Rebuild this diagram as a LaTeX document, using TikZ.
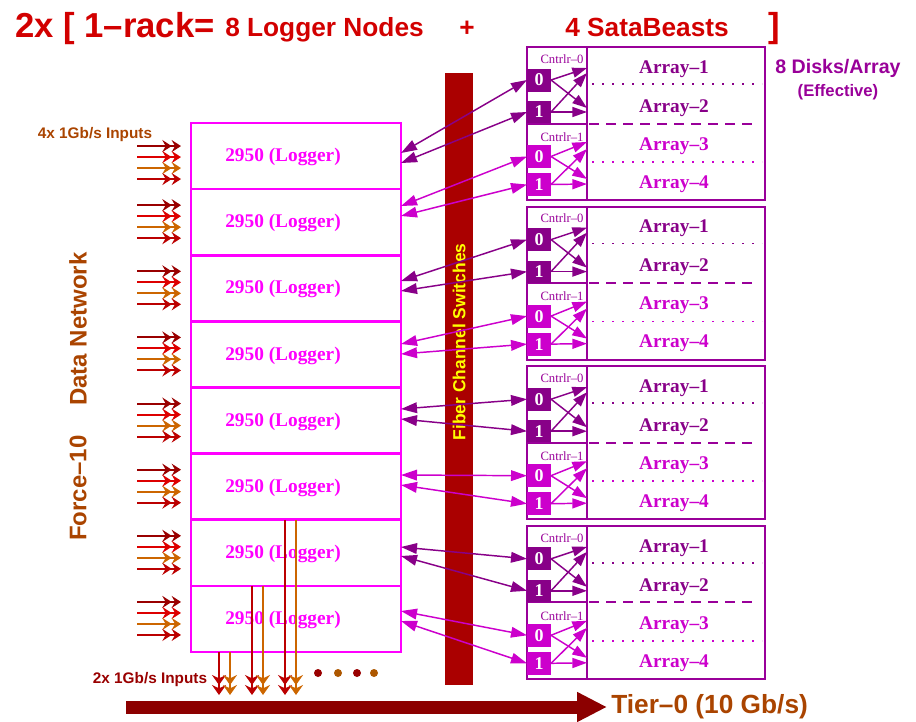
\documentclass[tikz,border=0pt]{standalone}
\usepackage{fontspec}
\setmainfont{Liberation Serif}
\newfontfamily\hsf{Liberation Sans}
\usetikzlibrary{arrows.meta,calc}
\newcommand\setfs[1]{\fontsize{#1}{#1}\selectfont}
\definecolor{titlered}{RGB}{210,0,0}
\definecolor{mag}{RGB}{255,0,255}
\definecolor{pur}{RGB}{153,0,153}
\definecolor{dpur}{RGB}{136,0,136}
\definecolor{lmag}{RGB}{204,0,204}
\definecolor{barred}{RGB}{170,0,0}
\definecolor{ochre}{RGB}{170,68,0}
\definecolor{inA}{RGB}{153,0,0}
\definecolor{inB}{RGB}{221,0,0}
\definecolor{inC}{RGB}{204,102,0}
\definecolor{inD}{RGB}{187,0,0}
\definecolor{tierred}{RGB}{140,0,0}
\definecolor{fcyellow}{RGB}{255,255,0}
\begin{document}
\begin{tikzpicture}[x=0.75pt,y=-0.75pt,
  logger/.style={draw=mag, line width=1.9pt, minimum width=157.5pt, minimum height=49.6pt, inner sep=0pt, outer sep=0pt},
  logtxt/.style={text=mag, font=\bfseries\setfs{14.5}, inner sep=0pt},
  frm/.style={draw=pur, line width=1.5pt, inner sep=0pt, outer sep=0pt},
  cbox/.style={minimum width=18pt, minimum height=17.25pt, inner sep=0pt, outer sep=0pt, text=white, font=\bfseries\setfs{13.5}},
  ctl/.style={text=pur, font=\setfs{9.5}, inner sep=0pt},
  arrtxt/.style={font=\bfseries\setfs{14.5}, inner sep=0pt},
  intarr/.style={line width=1.1pt, -{Triangle[length=11pt,width=7.5pt]}},
  fcarr/.style={line width=1.1pt, {Triangle[length=12pt,width=8pt]}-{Triangle[length=12pt,width=8pt]}},
  inarr/.style={line width=1.5pt, -{Stealth[length=7pt,width=9pt,inset=2.5pt]Stealth[length=7pt,width=9pt,inset=2.5pt]}},
  outarr/.style={line width=1.5pt, -{Stealth[length=7.5pt,width=10.5pt,inset=2.5pt]Stealth[length=7.5pt,width=10.5pt,inset=2.5pt]}},
  dotn/.style={circle, inner sep=0pt, minimum size=6pt},
  sans/.style={font=\hsf\bfseries\setfs{#1}, inner sep=0pt}
]
\useasboundingbox (0,0) rectangle (916,721);

% title
\node[sans=26, text=titlered, anchor=base west] (t1) at (15,37) {2x [ 1\textendash rack=};
\node[sans=19.7, text=titlered, anchor=base west] (t2) at (225,36) {8 Logger Nodes};
\node[sans=19.7, text=titlered, anchor=base] (t3) at (467,36) {+};
\node[sans=19.7, text=titlered, anchor=base west] (t4) at (565,36) {4 SataBeasts};
\node[sans=26, text=titlered, anchor=base west] (t5) at (768,37) {]};

% fiber channel bar
\node[fill=barred, minimum width=21pt, minimum height=459pt, inner sep=0pt] (fcs) at (459,379) {};
\node[sans=13.1, text=fcyellow, rotate=90] (fctext) at (459,342) {Fiber Channel Switches};

% left labels
\node[sans=18, text=ochre, rotate=90] (dn) at (78,329) {Data Network};
\node[sans=18, text=ochre, rotate=90] (f10) at (78,488) {Force\textendash 10};
\node[sans=11.5, text=ochre] (in4) at (95,135) {4x 1Gb/s Inputs};
\node[sans=11.5, text=inA] (in2) at (150,680) {2x 1Gb/s Inputs};

% loggers
\foreach \i in {1,...,8}{
  \pgfmathsetmacro\yc{123+66.125*(\i-1)+33.06}
  \node[logger] (L\i) at (296,\yc) {};
  \node[logtxt] (Lt\i) at (283,\yc+1) {2950 (Logger)};
  \foreach \j/\c in {1/inA,2/inB,3/inC,4/inD}{
    \pgfmathsetmacro\yy{\yc+ifthenelse(\i==1,-21,-28)+11*\j}
    \coordinate (in-\i-\j) at (137,\yy);
    \draw[inarr, \c, shorten >=7.5pt] (in-\i-\j) -- (L\i.west |- in-\i-\j);
  }
}

% satabeasts
\foreach \k in {1,...,4}{
  \pgfmathsetmacro\T{47+159.6*(\k-1)}
  \node[frm, minimum width=133.5pt, minimum height=114.75pt] (A\k) at (676,\T+76.5) {};
  \node[frm, minimum width=45pt, minimum height=57.375pt] (Ka\k) at (557,\T+38.25) {};
  \node[frm, minimum width=45pt, minimum height=57.375pt] (Kb\k) at (557,\T+114.75) {};
  \draw[pur, line width=1.5pt, dash pattern=on 7.5pt off 5.25pt] (589,\T+76.5) -- (758,\T+76.5);
  \draw[dpur, line width=1.3pt, dash pattern=on 1.3pt off 6.2pt] (592,\T+37) -- (762,\T+37);
  \draw[lmag, line width=1.3pt, dash pattern=on 1.3pt off 6.2pt] (592,\T+115) -- (762,\T+115);
  \node[ctl] (cl0-\k) at (562,\T+12) {Cntrlr\textendash 0};
  \node[ctl] (cl1-\k) at (562,\T+90) {Cntrlr\textendash 1};
  \node[cbox, fill=dpur] (ca0-\k) at (539,\T+33) {0};
  \node[cbox, fill=dpur, minimum height=16.5pt] (ca1-\k) at (539,\T+65) {1};
  \node[cbox, fill=lmag] (cb0-\k) at (539,\T+109.5) {0};
  \node[cbox, fill=lmag] (cb1-\k) at (539,\T+137.5) {1};
  \node[arrtxt, text=dpur] (ar1-\k) at (674,\T+22) {Array\textendash 1};
  \node[arrtxt, text=dpur] (ar2-\k) at (674,\T+61) {Array\textendash 2};
  \node[arrtxt, text=lmag] (ar3-\k) at (674,\T+99) {Array\textendash 3};
  \node[arrtxt, text=lmag] (ar4-\k) at (674,\T+137) {Array\textendash 4};
  \coordinate (ea1-\k) at (587,\T+21);
  \coordinate (ea2-\k) at (587,\T+61);
  \coordinate (ea3-\k) at (587,\T+26);
  \coordinate (ea4-\k) at (587,\T+65);
  \coordinate (eb1-\k) at (587,\T+95);
  \coordinate (eb2-\k) at (587,\T+132);
  \coordinate (eb3-\k) at (587,\T+102);
  \coordinate (eb4-\k) at (587,\T+137);
  \draw[intarr, dpur] (ca0-\k.east) -- (ea1-\k);
  \draw[intarr, dpur] (ca0-\k.east) -- (ea2-\k);
  \draw[intarr, dpur] (ca1-\k.east) -- (ea3-\k);
  \draw[intarr, dpur] (ca1-\k.east) -- (ea4-\k);
  \draw[intarr, lmag] (cb0-\k.east) -- (eb1-\k);
  \draw[intarr, lmag] (cb0-\k.east) -- (eb2-\k);
  \draw[intarr, lmag] (cb1-\k.east) -- (eb3-\k);
  \draw[intarr, lmag] (cb1-\k.east) -- (eb4-\k);
}
\node[sans=14.7, text=pur] (dpa) at (838,68) {8 Disks/Array};
\node[sans=12.5, text=pur] (eff) at (838,92) {(Effective)};

% logger <-> controller connectors
\foreach \i/\ya/\yb/\cc/\k/\h in {1/153/163/dpur/1/a, 2/206/216/lmag/1/b, 3/281/291/dpur/2/a, 4/344/354/lmag/2/b, 5/409/419/dpur/3/a, 6/475/485/lmag/3/b, 7/547/556/dpur/4/a, 8/611/621/lmag/4/b}{
  \coordinate (la-\i) at (401,\ya);
  \coordinate (lb-\i) at (401,\yb);
  \draw[fcarr, \cc] (la-\i) -- (c\h0-\k.west);
  \draw[fcarr, \cc] (lb-\i) -- (c\h1-\k.west);
}

% outputs
\foreach \n/\x/\c in {1/219/inD, 2/230/inC}{
  \coordinate (oa-\n) at (\x,695);
  \draw[outarr, \c] (L8.south -| oa-\n) -- (oa-\n);
}
\foreach \n/\x/\c in {1/252/inD, 2/263/inC}{
  \coordinate (ob-\n) at (\x,695);
  \draw[outarr, \c] (L8.north -| ob-\n) -- (ob-\n);
}
\foreach \n/\x/\c in {1/285/inD, 2/296/inC}{
  \coordinate (oc-\n) at (\x,695);
  \draw[outarr, \c] (L7.north -| oc-\n) -- (oc-\n);
}
\node[dotn, fill=inA] (d1) at (318,673) {};
\node[dotn, fill=inC!85!black] (d2) at (338,673) {};
\node[dotn, fill=inA] (d3) at (357,673) {};
\node[dotn, fill=inC!85!black] (d4) at (374,673) {};

% tier-0
\coordinate (t0) at (126,707);
\node[sans=19.7, text=ochre, anchor=west, inner sep=3pt] (tier) at (607,707) {Tier\textendash 0 (10 Gb/s)};
\draw[tierred, line width=9.75pt, -{Triangle[length=22.5pt,width=21pt]}] (t0) -- (tier.west);
\end{tikzpicture}
\end{document}
